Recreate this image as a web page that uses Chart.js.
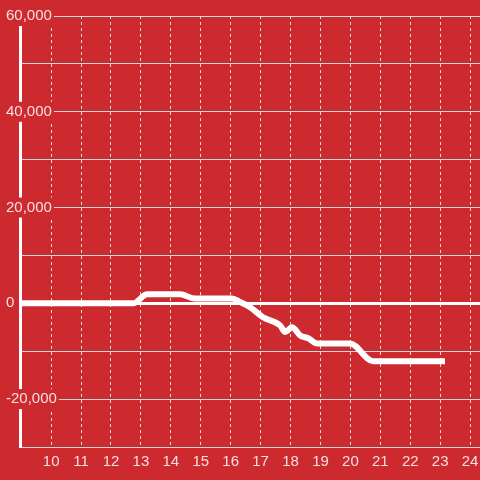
<!DOCTYPE html>
<html lang="en">
  <head>
    <meta charset="UTF-8" />
    <title>Chart</title>
    <style>
      html,
      body {
        margin: 0;
        padding: 0;
        background: #cc2a2e;
      }
      #wrap {
        width: 480px;
        height: 480px;
      }
    </style>
  </head>
  <body>
    <div id="wrap"><canvas id="myChart"></canvas></div>

    <script src="https://cdn.jsdelivr.net/npm/chart.js"></script>
    <script>
      const bg = "#cc2a2e";
      const textColor = "#f6dfe0";

      // values
      const xValues = [8.96, 12.74, 13.21, 14.31, 14.81, 16.05, 16.31, 16.65, 17.08, 17.65, 17.82, 18.05, 18.32, 18.59, 18.89, 19.99, 20.76, 23.16];
      const yValues = [0, 0, 1900, 1900, 1000, 1000, 300, -800, -2900, -4600, -6000, -5000, -6700, -7300, -8400, -8400, -12100, -12100];
      const xTicks = [10, 11, 12, 13, 14, 15, 16, 17, 18, 19, 20, 21, 22, 23, 24];
      const yTicks = [-30000, -20000, -10000, 0, 10000, 20000, 30000, 40000, 50000, 60000];
      const yLabelled = [-20000, 0, 20000, 40000, 60000];

      Chart.defaults.font.family = "'Liberation Sans', Arial, sans-serif";
      Chart.defaults.font.size = 15;

      const ctx = document.getElementById("myChart");

      new Chart(ctx, {
        type: "line",
        data: {
          datasets: [
            {
              data: xValues.map((x, i) => ({ x: x, y: yValues[i] })),
              borderColor: "#ffffff",
              borderWidth: 6,
              pointRadius: 0,
              cubicInterpolationMode: "monotone",
              fill: false,
            },
          ],
        },
        options: {
          responsive: true,
          maintainAspectRatio: false,
          animation: false,
          layout: { padding: { top: 16, left: 0, right: 0, bottom: 0 } },
          plugins: {
            legend: { display: false },
            tooltip: { enabled: false },
          },
          scales: {
            x: {
              type: "linear",
              min: 8.96,
              max: 24.33,
              afterBuildTicks: (scale) => {
                scale.ticks = xTicks.map((v) => ({ value: v }));
              },
              afterFit: (scale) => {
                scale.height = 33;
                scale.paddingLeft = 0;
                scale.paddingRight = 0;
              },
              grid: {
                color: "#dddddd",
                lineWidth: 1,
                drawTicks: false,
              },
              border: { display: false, dash: [3, 3] },
              ticks: {
                color: textColor,
                padding: 6,
                maxRotation: 0,
                autoSkip: false,
              },
            },
            y: {
              type: "linear",
              min: -30000,
              max: 60000,
              afterBuildTicks: (scale) => {
                scale.ticks = yTicks.map((v) => ({ value: v }));
              },
              afterFit: (scale) => {
                scale.width = 20;
              },
              grid: {
                color: (c) => (c.tick && c.tick.value === 0 ? "#ffffff" : "#d9d9d9"),
                lineWidth: (c) => (c.tick && c.tick.value === 0 ? 3 : 1),
                drawTicks: false,
              },
              border: { color: "#ffffff", width: 3 },
              ticks: {
                mirror: true,
                crossAlign: "near",
                padding: -14,
                autoSkip: false,
                color: textColor,
                showLabelBackdrop: (c) => yLabelled.includes(c.tick.value),
                backdropColor: bg,
                backdropPadding: { x: 2, y: 1 },
                callback: (v) => (yLabelled.includes(v) ? v.toLocaleString("en-US") : ""),
              },
            },
          },
        },
      });
    </script>
  </body>
</html>
